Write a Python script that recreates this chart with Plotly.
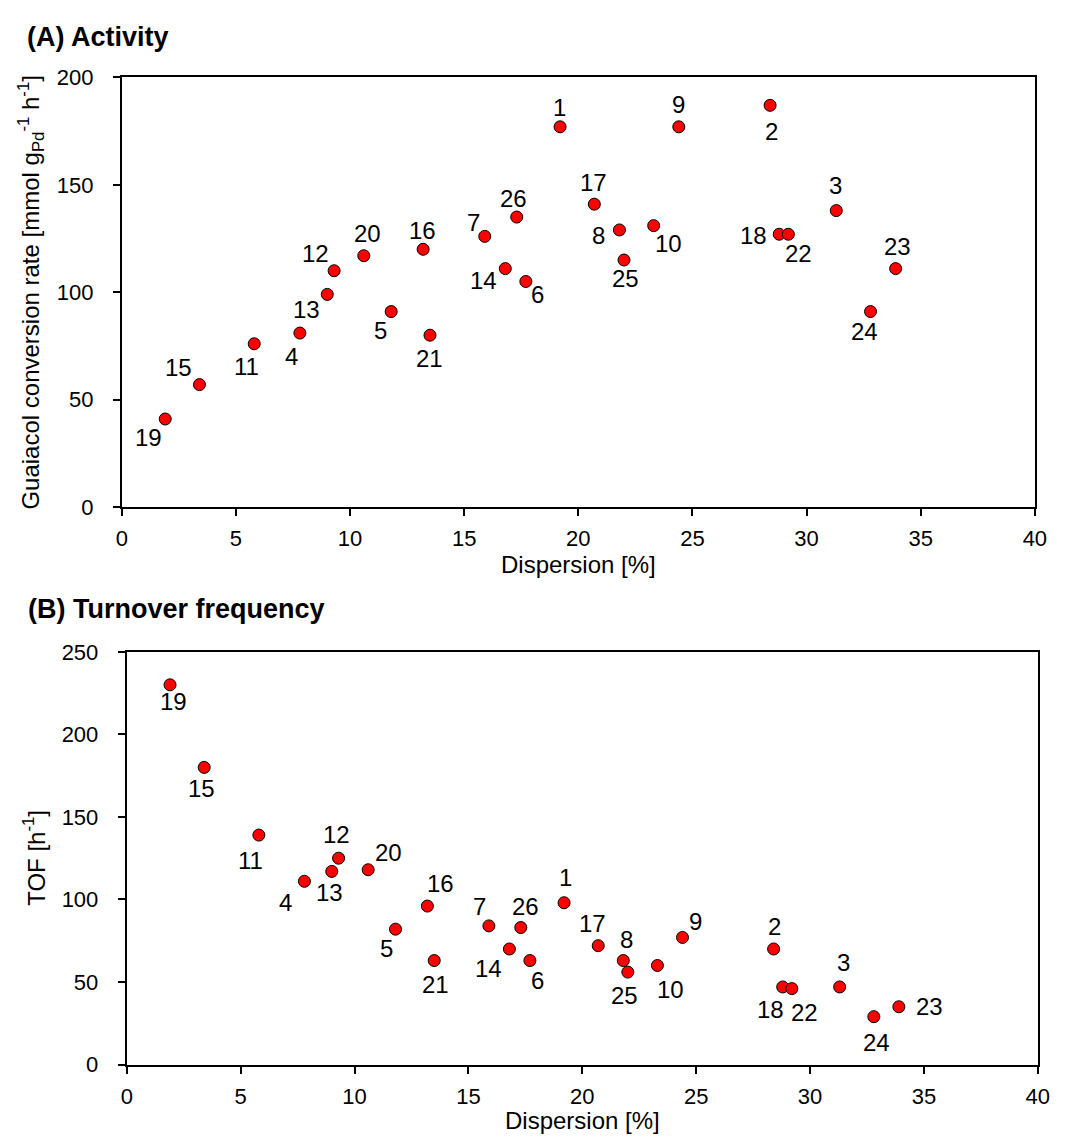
import plotly.graph_objects as go

# ---------------- data ----------------
catalyst_ids = [str(i) for i in range(1, 27)]
dispersion = [19.2, 28.4, 31.3, 7.8, 11.8, 17.7, 15.9, 21.8, 24.4, 23.3, 5.8, 9.3, 9.0,
              16.8, 3.4, 13.2, 20.7, 28.8, 1.9, 10.6, 13.5, 29.2, 33.9, 32.8, 22.0, 17.3]
activity = [177, 187, 138, 81, 91, 105, 126, 129, 177, 131, 76, 110, 99,
            111, 57, 120, 141, 127, 41, 117, 80, 127, 111, 91, 115, 135]
tof = [98, 70, 47, 111, 82, 63, 84, 63, 77, 60, 139, 125, 117,
       70, 180, 96, 72, 47, 230, 118, 63, 46, 35, 29, 56, 83]

x_ticks = [0, 5, 10, 15, 20, 25, 30, 35, 40]
yA_ticks = [0, 50, 100, 150, 200]
yB_ticks = [0, 50, 100, 150, 200, 250]

# label offsets in pixels (dx right, dy down) – styling only
offA = {1: (-1, -19), 2: (1, 26), 3: (-1, -25), 4: (-8, 23), 5: (-11, 19), 6: (12, 13),
        7: (-11, -14), 8: (-21, 6), 9: (0, -22), 10: (15, 18), 11: (-8, 23), 12: (-19, -17),
        13: (-21, 15), 14: (-22, 12), 15: (-21, -17), 16: (-1, -19), 17: (-1, -22),
        18: (-26, 1), 19: (-17, 19), 20: (4, -22), 21: (0, 23), 22: (10, 19), 23: (2, -22),
        24: (-6, 20), 25: (1, 18), 26: (-3, -19)}
offB = {1: (1, -25), 2: (1, -22), 3: (4, -24), 4: (-19, 21), 5: (-9, 19), 6: (8, 20),
        7: (-9, -19), 8: (3, -21), 9: (13, -16), 10: (13, 24), 11: (-8, 25), 12: (-2, -24),
        13: (-2, 21), 14: (-21, 20), 15: (-3, 21), 16: (13, -23), 17: (-6, -22),
        18: (-12, 23), 19: (3, 17), 20: (20, -17), 21: (1, 24), 22: (13, 24), 23: (31, 0),
        24: (3, 26), 25: (-3, 23), 26: (5, -21)}

# the page body has an 8px margin; the figure starts at (8, 8) in the window
PAGE_MARGIN = 8
W, H = 1068 - PAGE_MARGIN, 1147 - PAGE_MARGIN
FONT = "Arial, Liberation Sans, sans-serif"

def px_x(p):
    return (p - PAGE_MARGIN) / W

def px_y(p):
    return 1 - (p - PAGE_MARGIN) / H

marker = dict(size=12, color="#FF0000", line=dict(color="black", width=1))

fig = go.Figure()
fig.add_trace(go.Scatter(x=dispersion, y=activity, mode="markers", marker=marker,
                         xaxis="x", yaxis="y", showlegend=False, hoverinfo="skip"))
fig.add_trace(go.Scatter(x=dispersion, y=tof, mode="markers", marker=marker,
                         xaxis="x2", yaxis="y2", showlegend=False, hoverinfo="skip"))

axis_common = dict(showgrid=False, zeroline=False, showline=True, linecolor="black",
                   linewidth=2, mirror=True, ticks="outside", ticklen=7, tickwidth=2,
                   tickcolor="black", tickfont=dict(family=FONT, size=22, color="black"))

fig.update_layout(
    width=W, height=H,
    margin=dict(l=0, r=0, t=0, b=0),
    paper_bgcolor="white", plot_bgcolor="white",
    xaxis=dict(domain=[px_x(117.7), px_x(1046.5)], range=[0, 40], tickvals=x_ticks,
               anchor="y", ticklabelstandoff=4, **axis_common),
    yaxis=dict(domain=[px_y(506), px_y(66.7)], range=[0, 200], tickvals=yA_ticks,
               anchor="x", ticklabelstandoff=15, **axis_common),
    xaxis2=dict(domain=[px_x(122.7), px_x(1049.5)], range=[0, 40], tickvals=x_ticks,
                anchor="y2", ticklabelstandoff=4, **axis_common),
    yaxis2=dict(domain=[px_y(1076), px_y(654)], range=[0, 250], tickvals=yB_ticks,
                anchor="x2", ticklabelstandoff=15, **axis_common),
)

annotations = []
for i, (xv, yv) in enumerate(zip(dispersion, activity)):
    dx, dy = offA[i + 1]
    annotations.append(dict(x=xv, y=yv, xref="x", yref="y", text=catalyst_ids[i],
                            showarrow=False, xanchor="center", yanchor="middle",
                            xshift=dx, yshift=-dy,
                            font=dict(family=FONT, size=24, color="black")))
for i, (xv, yv) in enumerate(zip(dispersion, tof)):
    dx, dy = offB[i + 1]
    annotations.append(dict(x=xv, y=yv, xref="x2", yref="y2", text=catalyst_ids[i],
                            showarrow=False, xanchor="center", yanchor="middle",
                            xshift=dx, yshift=-dy,
                            font=dict(family=FONT, size=24, color="black")))

title_font = dict(family=FONT, size=27, color="black")
label_font = dict(family=FONT, size=24, color="black")
annotations += [
    dict(x=px_x(19), y=px_y(25), xref="paper", yref="paper", text="<b>(A) Activity</b>",
         showarrow=False, xanchor="left", yanchor="middle", font=title_font),
    dict(x=px_x(20), y=px_y(610), xref="paper", yref="paper",
         text="<b>(B) Turnover frequency</b>",
         showarrow=False, xanchor="left", yanchor="middle", font=title_font),
    dict(x=px_x(582), y=px_y(565), xref="paper", yref="paper", text="Dispersion [%]",
         showarrow=False, xanchor="center", yanchor="middle", font=label_font),
    dict(x=px_x(586), y=px_y(1133), xref="paper", yref="paper", text="Dispersion [%]",
         showarrow=False, xanchor="center", yanchor="middle", font=label_font),
    dict(x=px_x(25), y=px_y(286), xref="paper", yref="paper",
         text="Guaiacol conversion rate [mmol g<sub>Pd</sub><sup>-1</sup> h<sup>-1</sup>]",
         showarrow=False, xanchor="center", yanchor="middle", textangle=-90, font=label_font),
    dict(x=px_x(29), y=px_y(865), xref="paper", yref="paper",
         text="TOF [h<sup>-1</sup>]",
         showarrow=False, xanchor="center", yanchor="middle", textangle=-90, font=label_font),
]
fig.update_layout(annotations=annotations)

fig.write_html("out.html")
